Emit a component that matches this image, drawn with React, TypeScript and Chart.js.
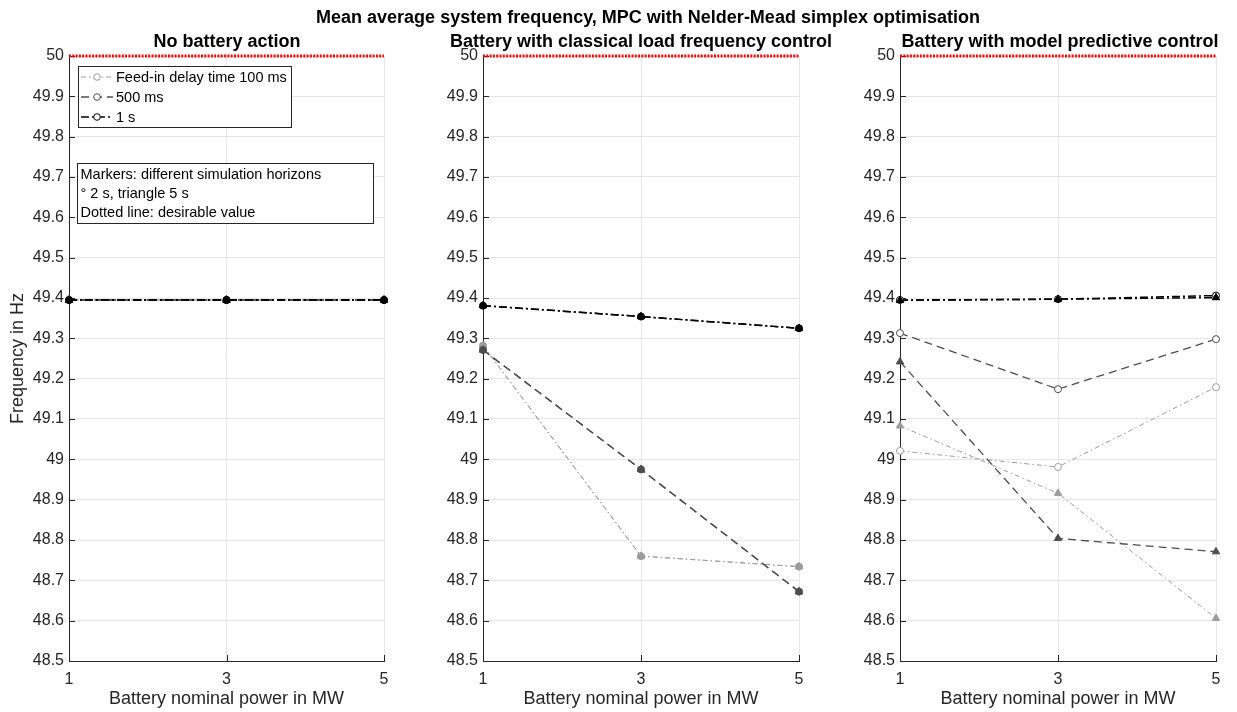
import React, { useEffect, useRef } from 'react';
import { Chart, registerables } from 'chart.js';

Chart.register(...registerables);

// ---------- data ----------
const batteryPower = [1, 3, 5];
const desiredFrequency = [50, 50, 50];
const yMin = 48.5;
const yMax = 50;
const yStep = 0.1;
const xTickStep = 2;

// No battery action
const none_100ms_2s = [49.395, 49.395, 49.395];
const none_100ms_5s = [49.395, 49.395, 49.395];
const none_500ms_2s = [49.395, 49.395, 49.395];
const none_500ms_5s = [49.395, 49.395, 49.395];
const none_1s_2s = [49.395, 49.395, 49.395];
const none_1s_5s = [49.395, 49.395, 49.395];

// Battery with classical load frequency control
const lfc_100ms_2s = [49.282, 48.76, 48.734];
const lfc_100ms_5s = [49.282, 48.76, 48.734];
const lfc_500ms_2s = [49.271, 48.975, 48.672];
const lfc_500ms_5s = [49.271, 48.975, 48.672];
const lfc_1s_2s = [49.381, 49.354, 49.325];
const lfc_1s_5s = [49.381, 49.354, 49.325];

// Battery with model predictive control
const mpc_100ms_2s = [49.021, 48.981, 49.179];
const mpc_100ms_5s = [49.083, 48.916, 48.606];
const mpc_500ms_2s = [49.313, 49.174, 49.298];
const mpc_500ms_5s = [49.242, 48.804, 48.771];
const mpc_1s_2s = [49.395, 49.397, 49.406];
const mpc_1s_5s = [49.394, 49.397, 49.401];

const delayLabels = ['Feed-in delay time 100 ms', '500 ms', '1 s'];
const noteLines = [
  'Markers: different simulation horizons',
  '\u00b0 2 s, triangle 5 s',
  'Dotted line: desirable value',
];
const mainTitle = 'Mean average system frequency, MPC with Nelder-Mead simplex optimisation';
const xTitle = 'Battery nominal power in MW';
const yTitle = 'Frequency in Hz';

// ---------- styles ----------
const FONT = "'Liberation Sans', Arial, Helvetica, sans-serif";
const AXIS = '#262626';
const GRID = '#e6e6e6';
const delayStyles = [
  { color: '#9c9c9c', dash: [5, 3, 1.5, 3], width: 1 },
  { color: '#4d4d4d', dash: [8, 5], width: 1.3 },
  { color: '#000000', dash: [8, 3, 2, 3], width: 1.5 },
];

type Panel = {
  title: string;
  series: number[][]; // order: 100ms 2s, 100ms 5s, 500ms 2s, 500ms 5s, 1s 2s, 1s 5s
  openCircles: boolean;
  left: number;
  width: number;
  yWidth: number;
  padRight: number;
  titleCenter: number;
  showYTitle: boolean;
  showLegend: boolean;
};

const panels: Panel[] = [
  {
    title: 'No battery action',
    series: [none_100ms_2s, none_100ms_5s, none_500ms_2s, none_500ms_5s, none_1s_2s, none_1s_5s],
    openCircles: false,
    left: 0, width: 420, yWidth: 69, padRight: 36, titleCenter: 227, showYTitle: true, showLegend: true,
  },
  {
    title: 'Battery with classical load frequency control',
    series: [lfc_100ms_2s, lfc_100ms_5s, lfc_500ms_2s, lfc_500ms_5s, lfc_1s_2s, lfc_1s_5s],
    openCircles: false,
    left: 420, width: 420, yWidth: 63, padRight: 41, titleCenter: 641, showYTitle: false, showLegend: false,
  },
  {
    title: 'Battery with model predictive control',
    series: [mpc_100ms_2s, mpc_100ms_5s, mpc_500ms_2s, mpc_500ms_5s, mpc_1s_2s, mpc_1s_5s],
    openCircles: true,
    left: 840, width: 397, yWidth: 60, padRight: 21, titleCenter: 1060, showYTitle: false, showLegend: false,
  },
];

const inwardTicks = {
  id: 'inwardTicks',
  beforeDatasetsDraw(chart: any) {
    const { ctx, chartArea, scales } = chart;
    ctx.save();
    ctx.strokeStyle = AXIS;
    ctx.lineWidth = 1;
    scales.y.ticks.forEach((t: any) => {
      const y = Math.round(scales.y.getPixelForValue(t.value)) + 0.5;
      ctx.beginPath();
      ctx.moveTo(chartArea.left, y);
      ctx.lineTo(chartArea.left + 6, y);
      ctx.stroke();
    });
    scales.x.ticks.forEach((t: any) => {
      const x = Math.round(scales.x.getPixelForValue(t.value)) + 0.5;
      ctx.beginPath();
      ctx.moveTo(x, chartArea.bottom);
      ctx.lineTo(x, chartArea.bottom - 6);
      ctx.stroke();
    });
    ctx.restore();
  },
};

const legendPlugin = {
  id: 'boxLegend',
  afterDraw(chart: any) {
    const opts = chart.options.plugins.boxLegend;
    if (!opts || !opts.show) return;
    const ctx = chart.ctx;
    ctx.save();
    // legend box
    ctx.fillStyle = '#ffffff';
    ctx.fillRect(78.5, 66.5, 213, 61);
    ctx.strokeStyle = AXIS;
    ctx.lineWidth = 1;
    ctx.strokeRect(78.5, 66.5, 213, 61);
    ctx.font = `14.5px ${FONT}`;
    ctx.textBaseline = 'middle';
    ctx.textAlign = 'left';
    delayLabels.forEach((label, i) => {
      const y = 77 + 20 * i;
      const st = delayStyles[i];
      ctx.strokeStyle = st.color;
      ctx.lineWidth = st.width;
      ctx.setLineDash(st.dash);
      ctx.beginPath();
      ctx.moveTo(81, y);
      ctx.lineTo(113, y);
      ctx.stroke();
      ctx.setLineDash([]);
      ctx.fillStyle = '#ffffff';
      ctx.lineWidth = 1;
      ctx.beginPath();
      ctx.arc(97, y, 3.3, 0, Math.PI * 2);
      ctx.fill();
      ctx.stroke();
      ctx.fillStyle = '#000000';
      ctx.fillText(label, 116, y + 0.5);
    });
    // note box
    ctx.fillStyle = '#ffffff';
    ctx.fillRect(77.5, 163.5, 296, 60);
    ctx.strokeStyle = AXIS;
    ctx.lineWidth = 1;
    ctx.strokeRect(77.5, 163.5, 296, 60);
    ctx.fillStyle = '#000000';
    noteLines.forEach((line, i) => {
      ctx.fillText(line, 80.5, 174.5 + 19 * i);
    });
    ctx.restore();
  },
};

function buildDatasets(p: Panel) {
  const ds: any[] = [];
  p.series.forEach((values, idx) => {
    const delay = Math.floor(idx / 2);
    const isTriangle = idx % 2 === 1;
    const st = delayStyles[delay];
    ds.push({
      data: batteryPower.map((x, k) => ({ x, y: values[k] })),
      borderColor: st.color,
      borderWidth: st.width,
      borderDash: st.dash,
      pointStyle: isTriangle ? 'triangle' : 'circle',
      pointRadius: isTriangle ? 4.3 : 3.5,
      pointBorderWidth: 1,
      pointBorderColor: st.color,
      pointBackgroundColor: isTriangle ? st.color : p.openCircles ? '#ffffff' : st.color,
      fill: false,
      tension: 0,
      clip: false,
      order: -idx,
    });
  });
  ds.push({
    data: batteryPower.map((x, k) => ({ x, y: desiredFrequency[k] })),
    borderColor: '#ff0000',
    borderWidth: 2.8,
    borderDash: [2, 1.3],
    pointRadius: 0,
    fill: false,
    clip: false,
    order: -10,
  });
  return ds;
}

function PanelChart({ p }: { p: Panel }) {
  const ref = useRef<HTMLCanvasElement>(null);
  useEffect(() => {
    if (!ref.current) return;
    const chart = new Chart(ref.current, {
      type: 'line',
      data: { datasets: buildDatasets(p) },
      plugins: [inwardTicks, legendPlugin],
      options: {
        responsive: false,
        animation: false,
        devicePixelRatio: 1,
        events: [],
        layout: { padding: { top: 56, right: p.padRight, bottom: 0, left: 0 } },
        plugins: {
          legend: { display: false },
          tooltip: { enabled: false },
          title: { display: false },
          boxLegend: { show: p.showLegend },
        } as any,
        scales: {
          x: {
            type: 'linear',
            min: batteryPower[0],
            max: batteryPower[batteryPower.length - 1],
            ticks: {
              stepSize: xTickStep,
              color: AXIS,
              font: { family: FONT, size: 16 },
              padding: 9,
              maxRotation: 0,
            },
            grid: { color: GRID, lineWidth: 1, drawTicks: false },
            border: { color: AXIS, width: 1 },
            title: {
              display: true,
              text: xTitle,
              color: AXIS,
              font: { family: FONT, size: 18 },
              padding: { top: 0, bottom: 2 },
            },
            afterFit: (s: any) => {
              s.height = 51;
              s.paddingLeft = 0;
              s.paddingRight = 0;
            },
          },
          y: {
            type: 'linear',
            min: yMin,
            max: yMax,
            ticks: {
              stepSize: yStep,
              color: AXIS,
              font: { family: FONT, size: 16 },
              padding: 5,
              callback: (v: any) => Number(Number(v).toFixed(1)).toString(),
            },
            grid: { color: GRID, lineWidth: 1, drawTicks: false },
            border: { color: AXIS, width: 1 },
            title: {
              display: p.showYTitle,
              text: yTitle,
              color: AXIS,
              font: { family: FONT, size: 18 },
              padding: { top: 7, bottom: 0 },
            },
            afterFit: (s: any) => {
              s.width = p.yWidth;
              s.paddingTop = 0;
              s.paddingBottom = 0;
            },
          },
        },
      } as any,
    });
    return () => chart.destroy();
  }, [p]);
  return (
    <canvas
      ref={ref}
      width={p.width}
      height={712}
      style={{ position: 'absolute', left: p.left, top: 0, width: p.width, height: 712 }}
    />
  );
}

export default function App() {
  return (
    <div
      style={{
        position: 'absolute',
        left: 0,
        top: 0,
        width: 1237,
        height: 712,
        background: '#ffffff',
        overflow: 'hidden',
        fontFamily: FONT,
      }}
    >
      {panels.map((p, i) => (
        <PanelChart key={i} p={p} />
      ))}
      <div
        style={{
          position: 'absolute',
          left: 648 - 450,
          width: 900,
          top: 8,
          textAlign: 'center',
          fontWeight: 'bold',
          fontSize: 18,
          lineHeight: '18px',
          color: '#000',
          whiteSpace: 'nowrap',
        }}
      >
        {mainTitle}
      </div>
      {panels.map((p, i) => (
        <div
          key={'t' + i}
          style={{
            position: 'absolute',
            left: p.titleCenter - 250,
            width: 500,
            top: 32,
            textAlign: 'center',
            fontWeight: 'bold',
            fontSize: 18,
            lineHeight: '18px',
            color: '#000',
            whiteSpace: 'nowrap',
          }}
        >
          {p.title}
        </div>
      ))}
    </div>
  );
}
